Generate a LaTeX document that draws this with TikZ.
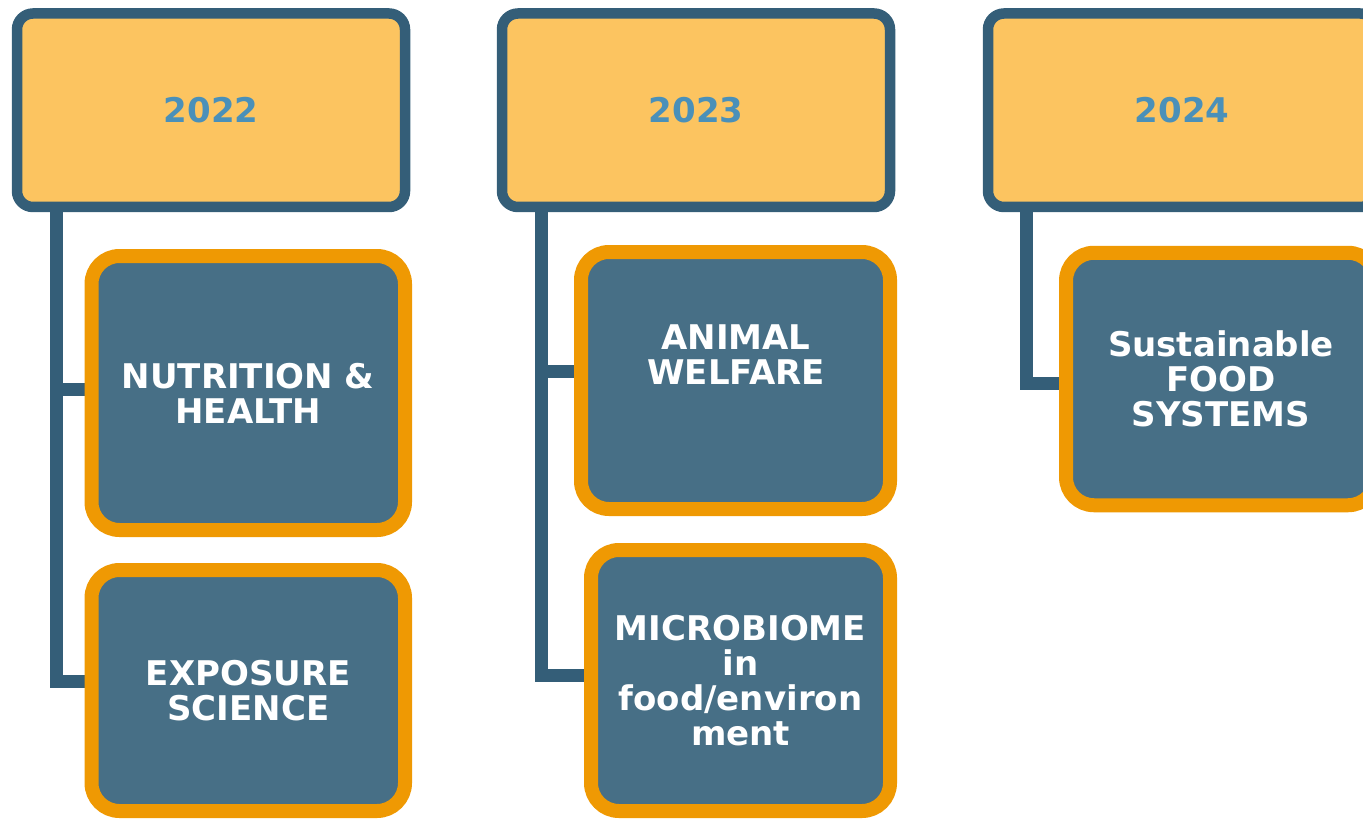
\documentclass[tikz,border=0pt]{standalone}
\usepackage{fontspec}
\setmainfont{DejaVu Sans}
\usetikzlibrary{backgrounds}

\definecolor{yearfill}{HTML}{FCC460}
\definecolor{yearline}{HTML}{345E78}
\definecolor{yeartext}{HTML}{4A90B9}
\definecolor{topicfill}{HTML}{476F86}
\definecolor{topicline}{HTML}{EF9903}

\tikzset{
    yearbox/.style = {draw = yearline, fill = yearfill, line width = 5.25pt, rounded corners = 8pt,
        minimum width = 194pt, minimum height = 96.75pt, inner sep = 0pt, outer sep = 0pt,
        text = yeartext, font = \bfseries\fontsize{17}{17.5}\selectfont},
    topictext/.style = {align = center, text = white, inner sep = 0pt, font = \bfseries\fontsize{17}{17.5}\selectfont},
    topicbox/.style = {topictext, draw = topicline, fill = topicfill, line width = 7pt, rounded corners = 14pt, outer sep = 0pt},
    link/.style = {draw = yearline, line width = 6.5pt}
}

\begin{document}
\begin{tikzpicture}[x = 0.5pt, y = -0.5pt]
        \useasboundingbox (0, 0) rectangle (1363, 818);
        \clip (0, 0) rectangle (1363, 818);

        % years
        \node[yearbox] (y22) at (211, 110.25) {2022};
        \node[yearbox] (y23) at (696, 110.25) {2023};
        \node[yearbox] (y24) at (1182, 110.25) {2024};

        % topics
        \node[topicbox, minimum width = 156.75pt, minimum height = 137pt] (nh) at (248.25, 393) {NUTRITION \&\\HEALTH};
        \node[topicbox, minimum width = 156.75pt, minimum height = 120.5pt] (es) at (248.25, 690.5) {EXPOSURE\\SCIENCE};
        \node[topicbox, minimum width = 154.5pt, minimum height = 128.5pt] (aw) at (735.5, 380.5) {};
        \node[topictext] (awt) at (736, 355) {ANIMAL\\WELFARE};
        \node[topicbox, minimum width = 149.5pt, minimum height = 130.5pt] (mb) at (740.5, 680.5) {MICROBIOME\\in\\food/environ\\ment};
        \node[topicbox, minimum width = 155pt, minimum height = 126.25pt] (sf) at (1221, 379) {Sustainable\\FOOD\\SYSTEMS};

        \coordinate (c22) at ([xshift = 19.5pt] y22.south west);
        \coordinate (c23) at ([xshift = 19.5pt] y23.south west);
        \coordinate (c24) at ([xshift = 19pt] y24.south west);

        \begin{scope}[on background layer]
            \draw[link] (c22) |- ([yshift = 2pt] nh.west);
            \draw[link] (c22) |- ([yshift = 4.75pt] es.west);
            \draw[link] (c23) |- ([yshift = 4.75pt] aw.west);
            \draw[link] (c23) |- ([yshift = 2.5pt] mb.west);
            \draw[link] (c24) |- ([yshift = -2pt] sf.west);
        \end{scope}
    \end{tikzpicture}
\end{document}
